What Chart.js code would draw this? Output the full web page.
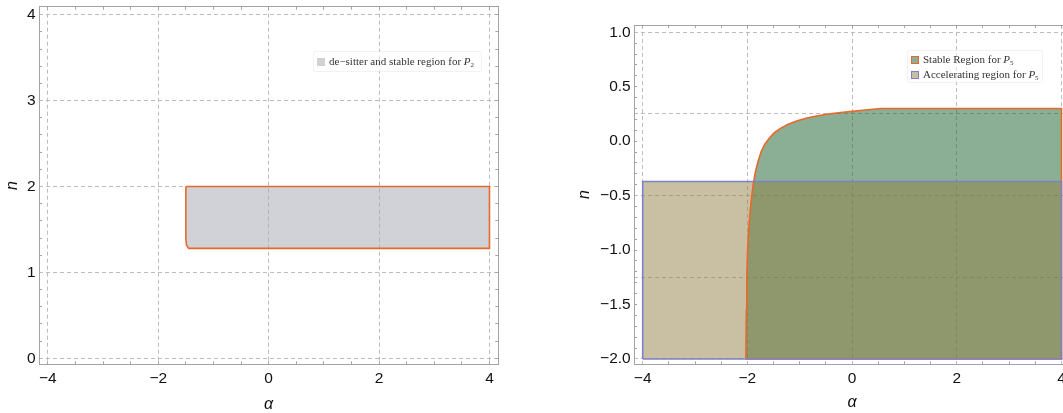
<!DOCTYPE html>
<html>
<head>
<meta charset="utf-8">
<script src="https://cdn.jsdelivr.net/npm/chart.js@4.4.1/dist/chart.umd.min.js"></script>
<style>
html,body{margin:0;padding:0;background:#fff;overflow:hidden;width:1063px;height:413px;position:relative;}
#c1{position:absolute;left:0;top:0;}
#c2{position:absolute;left:560px;top:0;}
.legend{position:absolute;font-family:"Liberation Serif","DejaVu Serif",serif;font-size:11px;color:#333;background:rgba(255,255,255,0.55);border:1px solid rgba(0,0,0,0.05);border-radius:3px;box-sizing:border-box;}
.legend .item{display:flex;align-items:center;white-space:nowrap;line-height:15px;height:15px;}
.legend .sw{width:6px;height:6px;margin-right:4px;border:1px solid;flex:none;}
.legend sub{font-size:7px;vertical-align:-2px;line-height:0;}
#lg1{left:313px;top:51px;width:169px;height:21px;padding:2px 0 0 3px;}
#lg2{left:907px;top:50px;width:136px;height:33px;padding:1px 0 0 3px;}
</style>
</head>
<body>
<canvas id="c1" width="520" height="413"></canvas>
<canvas id="c2" width="530" height="413"></canvas>
<div id="lg1" class="legend"></div>
<div id="lg2" class="legend"></div>
<script>
// ---------- data ----------
// Left panel: de-sitter and stable region for P2
const leftRegionAlpha = [-1.5, 4.0, 4.0, -1.45, -1.49, -1.5, -1.5];
const leftRegionN     = [2.0, 2.0, 1.28, 1.28, 1.32, 1.40, 2.0];
const leftLabel = 'de\u2212sitter and stable region for P_2';

// Right panel: stable region for P5 (boundary curve, then closed along n = -2) and accelerating region for P5
const stableAlpha = [-2.03, -2.02, -2.01, -2.0, -1.98, -1.96, -1.94, -1.92, -1.89, -1.85, -1.80, -1.74, -1.67, -1.58, -1.48, -1.36, -1.22, -1.06, -0.88, -0.68, -0.46, -0.22, 0.0, 0.2, 0.4, 0.55, 4.0, 4.0, -2.03];
const stableN     = [-2.0, -1.55, -1.25, -1.05, -0.85, -0.72, -0.61, -0.52, -0.40, -0.29, -0.19, -0.10, -0.03, 0.03, 0.08, 0.12, 0.155, 0.185, 0.21, 0.232, 0.25, 0.263, 0.274, 0.284, 0.294, 0.30, 0.30, -2.0, -2.0];
const stableLabel = 'Stable Region for P_5';
const accelAlpha = [-4.0, -4.0, 4.0, 4.0, -4.0];
const accelN     = [-2.0, -0.37, -0.37, -2.0, -2.0];
const accelLabel = 'Accelerating region for P_5';

// Tick labels / grid positions
const leftXTicks  = [-4, -2, 0, 2, 4];
const leftYTicks  = [0, 1, 2, 3, 4];
const leftXGrid   = [-4, -2, 0, 2, 4];
const leftYGrid   = [0, 1, 2, 3, 4];
const rightXTicks = [-4, -2, 0, 2, 4];
const rightYTicks = [-2, -1.5, -1, -0.5, 0, 0.5, 1];
const rightXGrid  = [-4, -2, 0, 2, 4];
const rightYGrid  = [-2, -1.25, -0.5, 0.25, 1];

// ---------- helpers ----------
const zip = (xs, ys) => xs.map((x, i) => ({x: x, y: ys[i]}));
const fmt = (v, dec) => (v < -1e-9 ? '\u2212' : '') + Math.abs(v).toFixed(dec);
const isIn = (v, arr) => arr.some(a => Math.abs(a - v) < 1e-6);
function minorList(min, max, step) {
  const out = [];
  for (let k = Math.ceil(min / step - 1e-9); k * step <= max + 1e-9; k++) out.push(Math.round(k * step * 1000) / 1000);
  return out;
}
const FRAME = '#a3a3a3';
const GRIDC = '#bdbdbd';
const TXT = '#111';
const tickFont = {family: '"Liberation Sans", Arial, sans-serif', size: 15.5};
const titleFont = {family: '"Liberation Sans", Arial, sans-serif', size: 16, style: 'italic', lineHeight: 1};
const zeroPad = s => { s.paddingLeft = 0; s.paddingRight = 0; s.paddingTop = 0; s.paddingBottom = 0; };
const setTicks = vals => s => { s.ticks = vals.map(v => ({value: v})); };

function buildScales(o) {
  const xAll = minorList(o.xMin, o.xMax, o.xMinor);
  const yAll = minorList(o.yMin, o.yMax, o.yMinor);
  const mirror = (axis, pos, vals) => ({
    type: 'linear', axis: axis, position: pos,
    min: axis === 'x' ? o.xMin : o.yMin, max: axis === 'x' ? o.xMax : o.yMax,
    afterBuildTicks: setTicks(vals),
    afterFit: s => { if (axis === 'x') s.height = 0; else s.width = 0; zeroPad(s); },
    ticks: {display: false, autoSkip: false},
    grid: {drawOnChartArea: false, drawTicks: true, tickLength: -3, color: FRAME, tickColor: FRAME, lineWidth: 1},
    border: {display: true, color: FRAME, width: 1}
  });
  const gridAxis = (axis, pos, vals) => ({
    type: 'linear', axis: axis, position: pos,
    min: axis === 'x' ? o.xMin : o.yMin, max: axis === 'x' ? o.xMax : o.yMax,
    afterBuildTicks: setTicks(vals),
    afterFit: s => { if (axis === 'x') s.height = 0; else s.width = 0; zeroPad(s); },
    ticks: {display: false, autoSkip: false},
    grid: {drawOnChartArea: true, drawTicks: false, color: GRIDC, lineWidth: 1},
    border: {display: false, dash: [4, 3]}
  });
  return {
    x: {
      type: 'linear', axis: 'x', position: 'bottom', min: o.xMin, max: o.xMax,
      afterBuildTicks: setTicks(xAll),
      afterFit: s => { s.height = o.xAxisH; zeroPad(s); },
      ticks: {autoSkip: false, maxRotation: 0, minRotation: 0, padding: 8.4, color: TXT, font: tickFont,
              callback: v => isIn(v, o.xMajor) ? fmt(v, 0) : ''},
      grid: {drawOnChartArea: false, drawTicks: true, tickLength: -3, color: FRAME, tickColor: FRAME, lineWidth: 1},
      border: {display: true, color: FRAME, width: 1},
      title: {display: true, text: '\u03b1', color: TXT, font: titleFont, padding: {top: 0, bottom: o.xTitlePad}}
    },
    y: {
      type: 'linear', axis: 'y', position: 'left', min: o.yMin, max: o.yMax,
      afterBuildTicks: setTicks(yAll),
      afterFit: s => { s.width = o.yAxisW; zeroPad(s); },
      ticks: {autoSkip: false, padding: 6.3, color: TXT, font: tickFont,
              callback: v => isIn(v, o.yMajor) ? fmt(v, o.yDec) : ''},
      grid: {drawOnChartArea: false, drawTicks: true, tickLength: -3, color: FRAME, tickColor: FRAME, lineWidth: 1},
      border: {display: true, color: FRAME, width: 1},
      title: {display: true, text: 'n', color: TXT, font: titleFont, padding: {top: o.yTitlePad, bottom: 0}}
    },
    xg: gridAxis('x', 'bottom', o.xGrid),
    yg: gridAxis('y', 'left', o.yGrid),
    xTop: mirror('x', 'top', xAll),
    yRight: mirror('y', 'right', yAll)
  };
}

function commonOptions(scales, padding) {
  return {
    responsive: false, animation: false, devicePixelRatio: 1, events: [],
    layout: {padding: padding, autoPadding: false},
    plugins: {legend: {display: false}, tooltip: {enabled: false}, filler: {drawTime: 'beforeDatasetsDraw'}},
    elements: {point: {radius: 0}, line: {tension: 0, borderJoinStyle: 'miter'}},
    scales: scales
  };
}

function region(label, xs, ys, fillC, lineC, order) {
  return {label: label, data: zip(xs, ys), showLine: true, fill: 'shape', order: order,
          backgroundColor: fillC, borderColor: lineC, borderWidth: 1.6, pointRadius: 0, tension: 0};
}

// ---------- left chart ----------
const chart1 = new Chart(document.getElementById('c1'), {
  type: 'scatter',
  data: {datasets: [region(leftLabel, leftRegionAlpha, leftRegionN, 'rgba(163,163,178,0.5)', '#e8692a', 1)]},
  options: commonOptions(buildScales({
    xMin: -4.16, xMax: 4.16, yMin: -0.07, yMax: 4.093,
    xMinor: 0.5, yMinor: 0.2, xMajor: leftXTicks, yMajor: leftYTicks, yDec: 0,
    xGrid: leftXGrid, yGrid: leftYGrid,
    xAxisH: 48.7, yAxisW: 39, xTitlePad: 0, yTitlePad: 5
  }), {left: 0, top: 6.7, right: 21.7, bottom: 0})
});

// ---------- right chart ----------
const chart2 = new Chart(document.getElementById('c2'), {
  type: 'scatter',
  data: {datasets: [
    region(stableLabel, stableAlpha, stableN, 'rgba(23,95,41,0.5)', '#e8692a', 2),
    region(accelLabel, accelAlpha, accelN, 'rgba(147,129,71,0.5)', '#7d82c8', 1)
  ]},
  options: commonOptions(buildScales({
    xMin: -4.166, xMax: 4.166, yMin: -2.049, yMax: 1.067,
    xMinor: 0.5, yMinor: 0.1, xMajor: rightXTicks, yMajor: rightYTicks, yDec: 1,
    xGrid: rightXGrid, yGrid: rightYGrid,
    xAxisH: 48.7, yAxisW: 74, xTitlePad: 2, yTitlePad: 17
  }), {left: 0, top: 25, right: 19.8, bottom: 0})
});

// ---------- HTML legends built from the datasets ----------
function htmlLegend(chart, el, borderOpacity) {
  el.innerHTML = '';
  chart.data.datasets.forEach(ds => {
    const item = document.createElement('div');
    item.className = 'item';
    const sw = document.createElement('span');
    sw.className = 'sw';
    sw.style.background = 'linear-gradient(' + ds.backgroundColor + ',' + ds.backgroundColor + '), #fff';
    sw.style.borderColor = ds.borderColor;
    sw.style.borderColor = 'color-mix(in srgb, ' + ds.borderColor + ' ' + Math.round(borderOpacity * 100) + '%, #ddd)';
    const tx = document.createElement('span');
    tx.innerHTML = ds.label.replace(/P_(\d)/, '<i>P</i><sub>$1</sub>');
    item.appendChild(sw); item.appendChild(tx);
    el.appendChild(item);
  });
}
htmlLegend(chart1, document.getElementById('lg1'), 0.15);
htmlLegend(chart2, document.getElementById('lg2'), 1);
</script>
</body>
</html>
